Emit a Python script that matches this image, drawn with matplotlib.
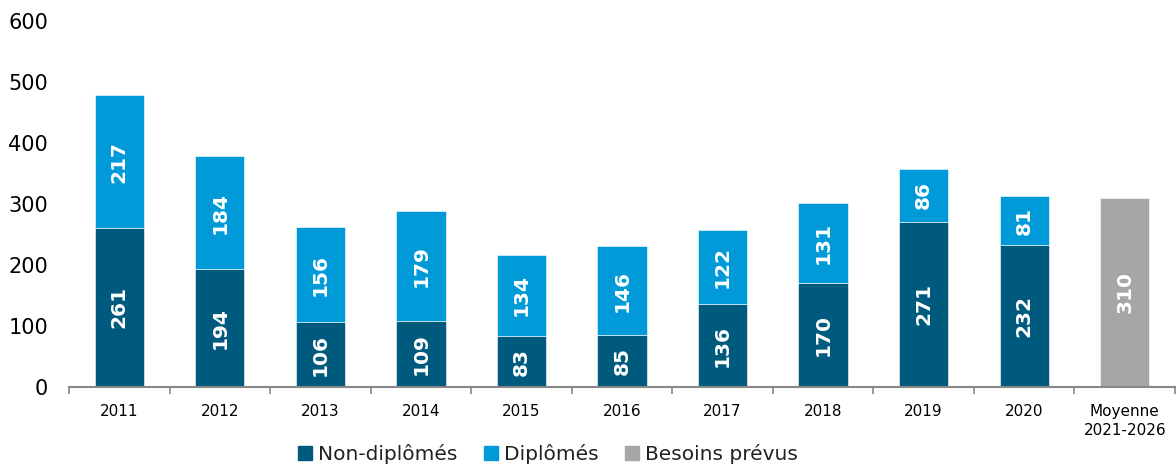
import matplotlib
matplotlib.use("Agg")
import matplotlib.pyplot as plt
import numpy as np
from matplotlib.patches import Patch

categories = ["2011", "2012", "2013", "2014", "2015", "2016", "2017", "2018", "2019", "2020", "Moyenne\n2021-2026"]
non_diplomes = [261, 194, 106, 109, 83, 85, 136, 170, 271, 232, 0]
diplomes = [217, 184, 156, 179, 134, 146, 122, 131, 86, 81, 0]
besoins = [0, 0, 0, 0, 0, 0, 0, 0, 0, 0, 310]
yticks = [0, 100, 200, 300, 400, 500, 600]

c_dark = "#005A7E"
c_light = "#009AD8"
c_gray = "#A6A6A6"

plt.rcParams['font.family'] = ['DejaVu Sans']
fig = plt.figure(figsize=(11.76, 4.67), dpi=100)
ax = fig.add_axes([69/1176, 80/467, 1 - 69/1176 - 1/1176, 366/467])

x = np.arange(len(categories))
w = 0.49
nd = np.array(non_diplomes)
d = np.array(diplomes)
b = np.array(besoins)

ax.bar(x[:-1], nd[:-1], w, color=c_dark, edgecolor="white", linewidth=0.4)
ax.bar(x[:-1], d[:-1], w, bottom=nd[:-1], color=c_light, edgecolor="white", linewidth=0.4)
ax.bar(x[-1:], b[-1:], w, color=c_gray, edgecolor="white", linewidth=0.4)

lab = dict(color="white", fontweight="bold", fontsize=14.5, rotation=90, ha="center", va="center")
for i in range(len(categories) - 1):
    ax.text(x[i], nd[i] / 2, str(nd[i]), **lab)
    ax.text(x[i], nd[i] + d[i] / 2, str(d[i]), **lab)
ax.text(x[-1], b[-1] / 2, str(b[-1]), **lab)

ax.set_xlim(-0.5, len(categories) - 0.5)
ax.set_ylim(0, 600)
ax.set_yticks(yticks)
ax.set_yticklabels([str(v) for v in yticks], fontsize=15)
ax.tick_params(axis="y", length=0, pad=15)
ax.set_xticks(x)
ax.set_xticklabels(categories, fontsize=11, linespacing=1.35)
ax.tick_params(axis="x", length=0, pad=12)
ax.set_xticks(np.arange(-0.5, len(categories), 1), minor=True)
ax.tick_params(axis="x", which="minor", length=5, color="#888888", width=1.2)

for s in ["top", "right", "left"]:
    ax.spines[s].set_visible(False)
ax.spines["bottom"].set_color("#888888")
ax.spines["bottom"].set_linewidth(1.5)

handles = [Patch(color=c_dark, label="Non-diplômés"),
           Patch(color=c_light, label="Diplômés"),
           Patch(color=c_gray, label="Besoins prévus")]
fig.legend(handles=handles, loc="center", bbox_to_anchor=(548/1176, 1 - 454/467), ncol=3,
           frameon=False, fontsize=14.5, handlelength=0.7, handleheight=0.7,
           handletextpad=0.3, columnspacing=1.3, labelcolor="#222222",
           borderpad=0, borderaxespad=0)

fig.savefig("out.png", dpi=100)
